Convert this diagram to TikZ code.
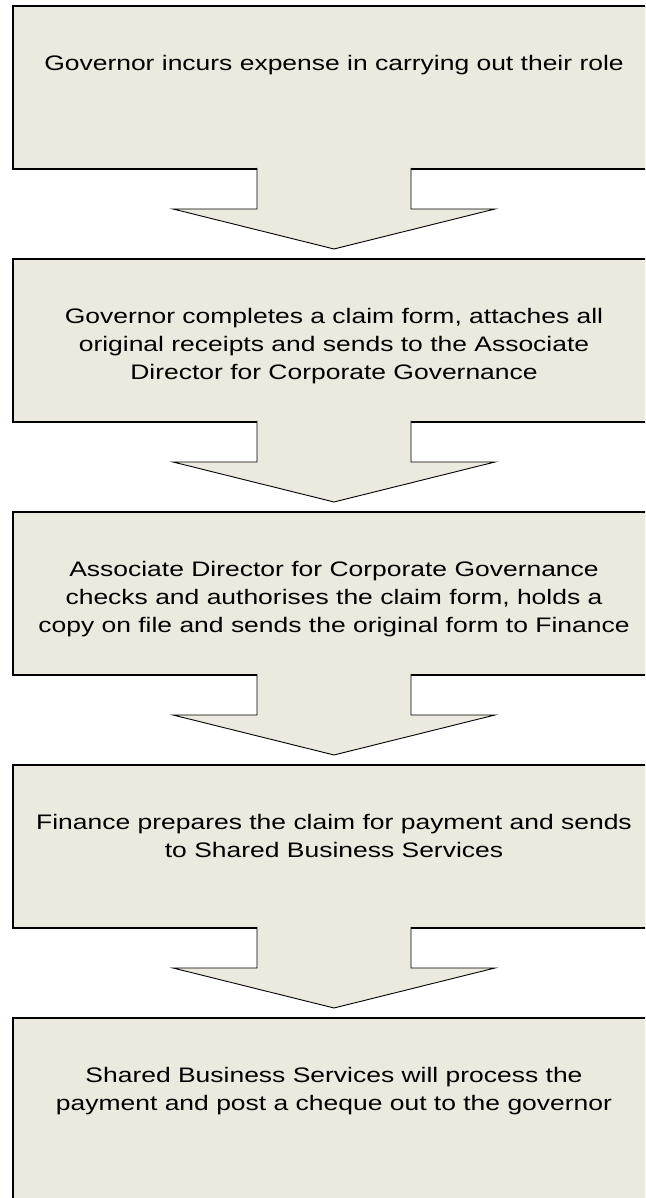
\documentclass[tikz,border=0pt]{standalone}
\usepackage{fontspec}
\setmainfont[FakeStretch=1.26]{Liberation Sans}
\usetikzlibrary{positioning}
\definecolor{boxfill}{RGB}{236,233,222}
\newcommand{\boxgap}{90pt}
\newcommand{\steptext}[2][163pt]{\parbox[c][#1][t]{640pt}{\centering\fontsize{21}{28}\selectfont\vspace*{49pt}#2}}
\tikzstyle{stepbox}=[draw, fill=boxfill, line width=1.2pt, inner sep=0, outer sep=0,
                     minimum width=642pt, minimum height=163pt]
\tikzstyle{flowarrow}=[draw, fill=boxfill, line width=0.9pt, line join=miter]
\begin{document}
\begin{tikzpicture}[x=1pt, y=1pt]
    \path[use as bounding box] (0,0) rectangle (645,1198);
    \clip (0,0) rectangle (645,1198);
    \node[stepbox, anchor=north] (b1) at (334,1192)
        {\steptext{Governor incurs expense in carrying out their role}};
    \node[stepbox, below=\boxgap of b1] (b2)
        {\steptext{Governor completes a claim form, attaches all\\
                   original receipts and sends to the Associate\\
                   Director for Corporate Governance}};
    \node[stepbox, below=\boxgap of b2] (b3)
        {\steptext{Associate Director for Corporate Governance\\
                   checks and authorises the claim form, holds a\\
                   copy on file and sends the original form to Finance}};
    \node[stepbox, below=\boxgap of b3] (b4)
        {\steptext{Finance prepares the claim for payment and sends\\
                   to Shared Business Services}};
    \node[stepbox, below=\boxgap of b4] (b5)
        {\steptext[220pt]{Shared Business Services will process the\\
                   payment and post a cheque out to the governor}};
    % block arrows between the steps
    \foreach \from/\to in {b1/b2, b2/b3, b3/b4, b4/b5}
        \path[flowarrow] ([xshift=-77pt, yshift=1pt]\from.south) -- ++(0,-41) -- ++(-84,0)
            -- ([yshift=10pt]\to.north) -- ++(161,40) -- ++(-84,0)
            -- ([xshift=77pt, yshift=1pt]\from.south);
\end{tikzpicture}
\end{document}
